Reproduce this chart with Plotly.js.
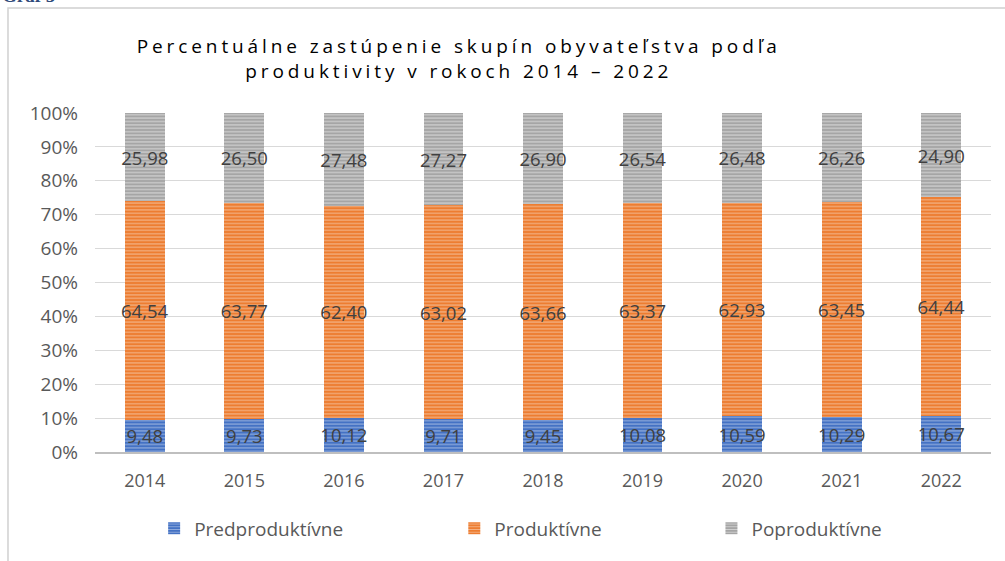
<!DOCTYPE html>
<html>
<head>
<meta charset="utf-8">
<script src="https://cdn.plot.ly/plotly-3.0.1.min.js"></script>
<style>
  body { margin: 0; background: #fff; }
  #chart { width: 1005px; height: 561px; }
  .gtitle { letter-spacing: 3.9px; }
</style>
</head>
<body>
<div id="chart"></div>
<script>
var roky = ['2014', '2015', '2016', '2017', '2018', '2019', '2020', '2021', '2022'];
var predproduktivne = [9.48, 9.73, 10.12, 9.71, 9.45, 10.08, 10.59, 10.29, 10.67];
var produktivne = [64.54, 63.77, 62.40, 63.02, 63.66, 63.37, 62.93, 63.45, 64.44];
var poproduktivne = [25.98, 26.50, 27.48, 27.27, 26.90, 26.54, 26.48, 26.26, 24.90];
var yTicks = [0, 10, 20, 30, 40, 50, 60, 70, 80, 90, 100];
var yTickLabels = ['0%', '10%', '20%', '30%', '40%', '50%', '60%', '70%', '80%', '90%', '100%'];

function makeTrace(name, values, color, stripe, legendId) {
  return {
    x: roky,
    y: values,
    type: 'bar',
    name: name,
    legend: legendId,
    texttemplate: '%{y:.2f}',
    textposition: 'inside',
    insidetextanchor: 'middle',
    textangle: 0,
    constraintext: 'none',
    textfont: { family: 'Open Sans, sans-serif', size: 18.5, color: '#404040' },
    marker: {
      color: color,
      line: { width: 0 },
      pattern: { shape: '-', bgcolor: color, fgcolor: stripe, size: 3.4, solidity: 0.35, fillmode: 'replace' }
    },
    hoverinfo: 'skip'
  };
}

var data = [
  makeTrace('Predproduktívne', predproduktivne, '#4472C4', '#8FAADC', 'legend'),
  makeTrace('Produktívne', produktivne, '#ED7D31', '#F4B183', 'legend2'),
  makeTrace('Poproduktívne', poproduktivne, '#A5A5A5', '#D0D0D0', 'legend3')
];

var legendStyle = function (xPos) {
  return {
    orientation: 'h', x: xPos, xanchor: 'left', y: -0.225, yanchor: 'middle',
    font: { family: 'Open Sans, sans-serif', size: 19, color: '#595959' },
    itemwidth: 30, bgcolor: 'rgba(0,0,0,0)'
  };
};

var layout = {
  width: 1005,
  height: 561,
  margin: { l: 95, r: 14, t: 113, b: 109 },
  paper_bgcolor: '#ffffff',
  plot_bgcolor: '#ffffff',
  barmode: 'stack',
  bargap: 0.6,
  separators: ', ',
  title: {
    text: 'Percentuálne zastúpenie skupín obyvateľstva podľa<br>produktivity v rokoch 2014 – 2022',
    font: { family: 'Open Sans, sans-serif', size: 19, color: '#000000' },
    x: 0.406, xanchor: 'center', xref: 'paper',
    y: 0.905, yanchor: 'top'
  },
  xaxis: {
    type: 'category',
    showgrid: false,
    showline: true,
    linecolor: '#BFBFBF',
    linewidth: 2,
    ticks: '',
    ticklabelstandoff: 11,
    tickfont: { family: 'Open Sans, sans-serif', size: 18, color: '#595959' }
  },
  yaxis: {
    range: [0, 100],
    tickmode: 'array',
    tickvals: yTicks,
    ticktext: yTickLabels,
    showgrid: true,
    gridcolor: '#D9D9D9',
    gridwidth: 1,
    zeroline: false,
    showline: false,
    ticks: '',
    ticklabelstandoff: 16,
    tickfont: { family: 'Open Sans, sans-serif', size: 19, color: '#595959' }
  },
  showlegend: true,
  legend: legendStyle(0.066),
  legend2: legendStyle(0.401),
  legend3: legendStyle(0.688),
  shapes: [{
    type: 'rect', xref: 'paper', yref: 'paper',
    x0: -0.0971, x1: 1.05, y0: -0.5, y1: 1.3097,
    line: { color: '#D0D0D0', width: 1.5 }, fillcolor: 'rgba(0,0,0,0)', layer: 'above'
  }],
  annotations: [{
    text: '<b>Graf 5</b>', xref: 'paper', yref: 'paper',
    x: -0.106, xanchor: 'left', y: 1.31, yanchor: 'bottom',
    showarrow: false,
    font: { family: 'Liberation Serif, serif', size: 19, color: '#2F4A7A' }
  }]
};

Plotly.newPlot('chart', data, layout, { displayModeBar: false, staticPlot: true });
</script>
</body>
</html>
